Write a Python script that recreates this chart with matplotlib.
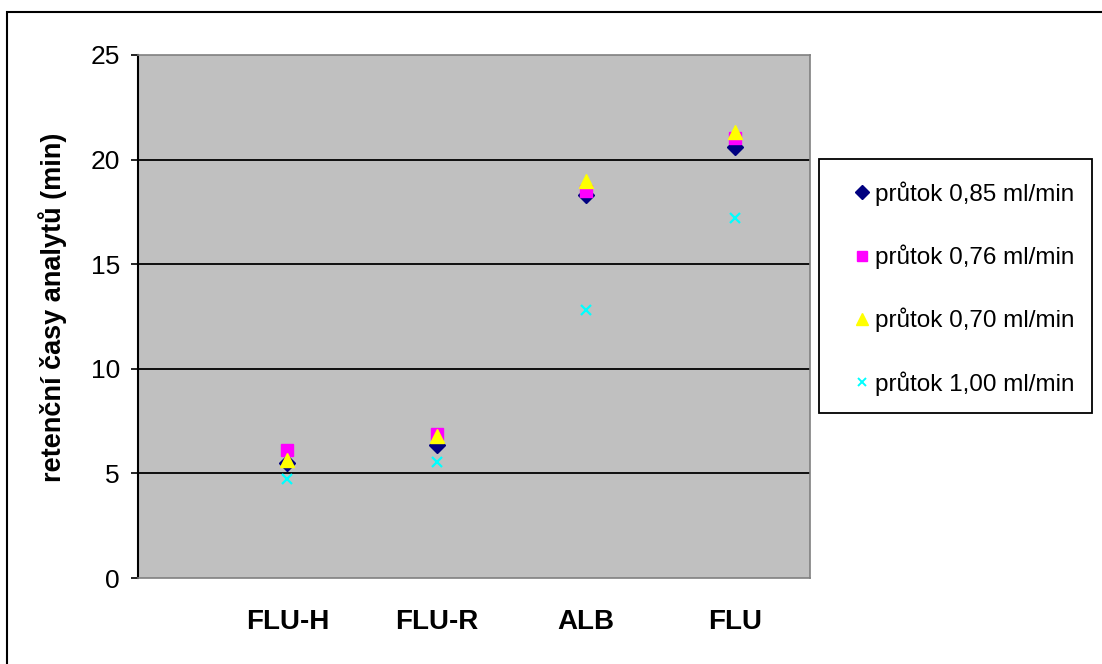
import matplotlib.pyplot as plt
from matplotlib.patches import Rectangle
from matplotlib.lines import Line2D

plt.rcParams['font.family'] = ['Liberation Sans', 'DejaVu Sans']

# retention times (min) of the analytes at four flow rates
analytes = ['FLU-H', 'FLU-R', 'ALB', 'FLU']
flow_085 = [5.5, 6.36, 18.3, 20.6]
flow_076 = [6.1, 6.9, 18.5, 21.05]
flow_070 = [5.65, 6.8, 19.0, 21.3]
flow_100 = [4.75, 5.55, 12.8, 17.2]
series_labels = ['průtok 0,85 ml/min', 'průtok 0,76 ml/min',
                 'průtok 0,70 ml/min', 'průtok 1,00 ml/min']

W, H = 1102, 664
fig = plt.figure(figsize=(W / 100, H / 100), dpi=100)
fig.patch.set_facecolor('white')

# outer chart border
fig.patches.append(Rectangle((7 / W, -0.1), 1.2, 1 - 12 / H + 0.1,
                             transform=fig.transFigure, fill=False,
                             edgecolor='black', linewidth=1.5))

ax = fig.add_axes([138 / W, (H - 578) / H, 672 / W, 523 / H])
ax.set_facecolor('#C0C0C0')

x = list(range(1, len(analytes) + 1))
ax.plot(x, flow_085, 'D', color='#000080', markersize=8, linestyle='none', zorder=3)
ax.plot(x, flow_076, 's', color='#FF00FF', markersize=8, linestyle='none', zorder=4)
ax.plot(x, flow_070, '^', color='#FFFF00', markersize=10, linestyle='none', zorder=5)
ax.plot(x, flow_100, 'x', color='#00FFFF', markersize=7.5, markeredgewidth=1.6,
        linestyle='none', zorder=6)

ax.set_xlim(0, 4.5)
ax.set_ylim(0, 25)
ax.set_yticks([0, 5, 10, 15, 20, 25])
for yv in [5, 10, 15, 20]:
    ax.axhline(yv, color='black', linewidth=1.3, zorder=1)

ax.set_xticks(x)
ax.set_xticklabels(analytes, fontsize=20, fontweight='bold')
ax.tick_params(axis='x', length=0, pad=22)
ax.tick_params(axis='y', direction='out', length=5, width=1.2, pad=8, labelsize=19)

for side in ['top', 'right', 'bottom']:
    ax.spines[side].set_color('#808080')
    ax.spines[side].set_linewidth(1.2)
ax.spines['left'].set_color('black')
ax.spines['left'].set_linewidth(1.5)

ax.set_ylabel('retenční časy analytů (min)', fontsize=19.5, fontweight='bold')
ax.yaxis.set_label_coords(-0.105, 0.518)

# legend box drawn separately, entries placed inside it
fig.patches.append(Rectangle((819 / W, 1 - 413 / H), 273 / W, 254 / H,
                             transform=fig.transFigure, facecolor='white',
                             edgecolor='black', linewidth=1.3))
handles = [
    Line2D([], [], marker='D', color='#000080', markersize=7, linestyle='none'),
    Line2D([], [], marker='s', color='#FF00FF', markersize=7, linestyle='none'),
    Line2D([], [], marker='^', color='#FFFF00', markersize=9, linestyle='none'),
    Line2D([], [], marker='x', color='#00FFFF', markersize=6, markeredgewidth=1.4,
           linestyle='none'),
]
leg = fig.legend(handles, series_labels, loc='upper left',
                 bbox_to_anchor=(852 / W, 1 - 181 / H), borderaxespad=0,
                 fontsize=17.5, frameon=False, borderpad=0,
                 handlelength=0.8, handletextpad=0.15, labelspacing=1.6)

fig.savefig('out.png', dpi=100)
